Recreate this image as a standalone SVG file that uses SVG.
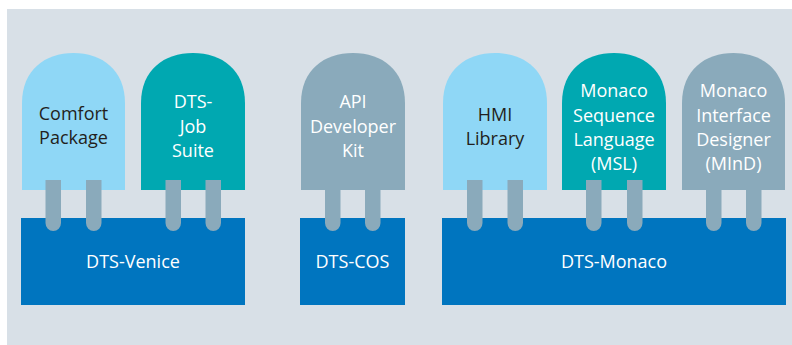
<svg xmlns="http://www.w3.org/2000/svg" width="792" height="345" viewBox="0 0 792 345">
<style>
.lb{fill:#8fd7f6}.tl{fill:#00a8b1}.gr{fill:#8aaabb}.base{fill:#0075bf}
.pin{fill:#8aaabb}
text{font-family:"Open Sans","Noto Sans","Liberation Sans",sans-serif;font-size:18px;text-anchor:middle}
.d{fill:#231f20}.w{fill:#ffffff}
</style>
<rect x="0" y="0" width="792" height="345" fill="#ffffff"/>
<rect x="7" y="9" width="785" height="336" fill="#d8e0e7"/>
<g id="venice">
<rect class="base" x="21" y="218" width="224" height="87"/>
<text class="w" x="133" y="268">DTS-Venice</text>
</g>
<g id="cos">
<rect class="base" x="300" y="218" width="105" height="87"/>
<text class="w" x="352.5" y="268">DTS-COS</text>
</g>
<g id="monaco">
<rect class="base" x="442" y="218" width="344" height="87"/>
<text class="w" x="614" y="268">DTS-Monaco</text>
</g>
<g id="comfort">
<path class="lb" d="M22,190 V103 C22,70 45,53 73.5,53 C102,53 125,70 125,103 V190 Z"/>
<text class="d" x="73.5" y="120">Comfort</text>
<text class="d" x="73.5" y="144">Package</text>
</g>
<g id="jobsuite">
<path class="tl" d="M141,190 V103 C141,70 164,53 193,53 C222,53 245,70 245,103 V190 Z"/>
<text class="w" x="193" y="108">DTS-</text>
<text class="w" x="193" y="133">Job</text>
<text class="w" x="193" y="157">Suite</text>
</g>
<g id="api">
<path class="gr" d="M301,190 V103 C301,70 324,53 353,53 C382,53 405,70 405,103 V190 Z"/>
<text class="w" x="353" y="108">API</text>
<text class="w" x="353" y="133">Developer</text>
<text class="w" x="353" y="157">Kit</text>
</g>
<g id="hmi">
<path class="lb" d="M443,190 V103 C443,70 466,53 495,53 C524,53 547,70 547,103 V190 Z"/>
<text class="d" x="495" y="121">HMI</text>
<text class="d" x="495" y="145">Library</text>
</g>
<g id="msl">
<path class="tl" d="M562,190 V103 C562,70 585,53 614,53 C643,53 666,70 666,103 V190 Z"/>
<text class="w" x="614" y="97">Monaco</text>
<text class="w" x="614" y="122">Sequence</text>
<text class="w" x="614" y="146">Language</text>
<text class="w" x="614" y="170">(MSL)</text>
</g>
<g id="mind">
<path class="gr" d="M682,190 V103 C682,70 705,53 733.5,53 C762,53 785,70 785,103 V190 Z"/>
<text class="w" x="733.5" y="97">Monaco</text>
<text class="w" x="733.5" y="122">Interface</text>
<text class="w" x="733.5" y="146">Designer</text>
<text class="w" x="733.5" y="170">(MInD)</text>
</g>
<g id="connectors">
<path class="pin" d="M45.5,180 H61 V223 A7.75,8 0 0 1 45.5,223 Z"/>
<path class="pin" d="M86,180 H101.5 V223 A7.75,8 0 0 1 86,223 Z"/>
<path class="pin" d="M165.5,180 H181 V223 A7.75,8 0 0 1 165.5,223 Z"/>
<path class="pin" d="M205.5,180 H221 V223 A7.75,8 0 0 1 205.5,223 Z"/>
<path class="pin" d="M325,180 H340.5 V223 A7.75,8 0 0 1 325,223 Z"/>
<path class="pin" d="M365,180 H380.5 V223 A7.75,8 0 0 1 365,223 Z"/>
<path class="pin" d="M467,180 H482.5 V223 A7.75,8 0 0 1 467,223 Z"/>
<path class="pin" d="M507.5,180 H523 V223 A7.75,8 0 0 1 507.5,223 Z"/>
<path class="pin" d="M586,180 H601.5 V223 A7.75,8 0 0 1 586,223 Z"/>
<path class="pin" d="M627,180 H642.5 V223 A7.75,8 0 0 1 627,223 Z"/>
<path class="pin" d="M706,180 H721.5 V223 A7.75,8 0 0 1 706,223 Z"/>
<path class="pin" d="M746,180 H761.5 V223 A7.75,8 0 0 1 746,223 Z"/>
</g>
</svg>
